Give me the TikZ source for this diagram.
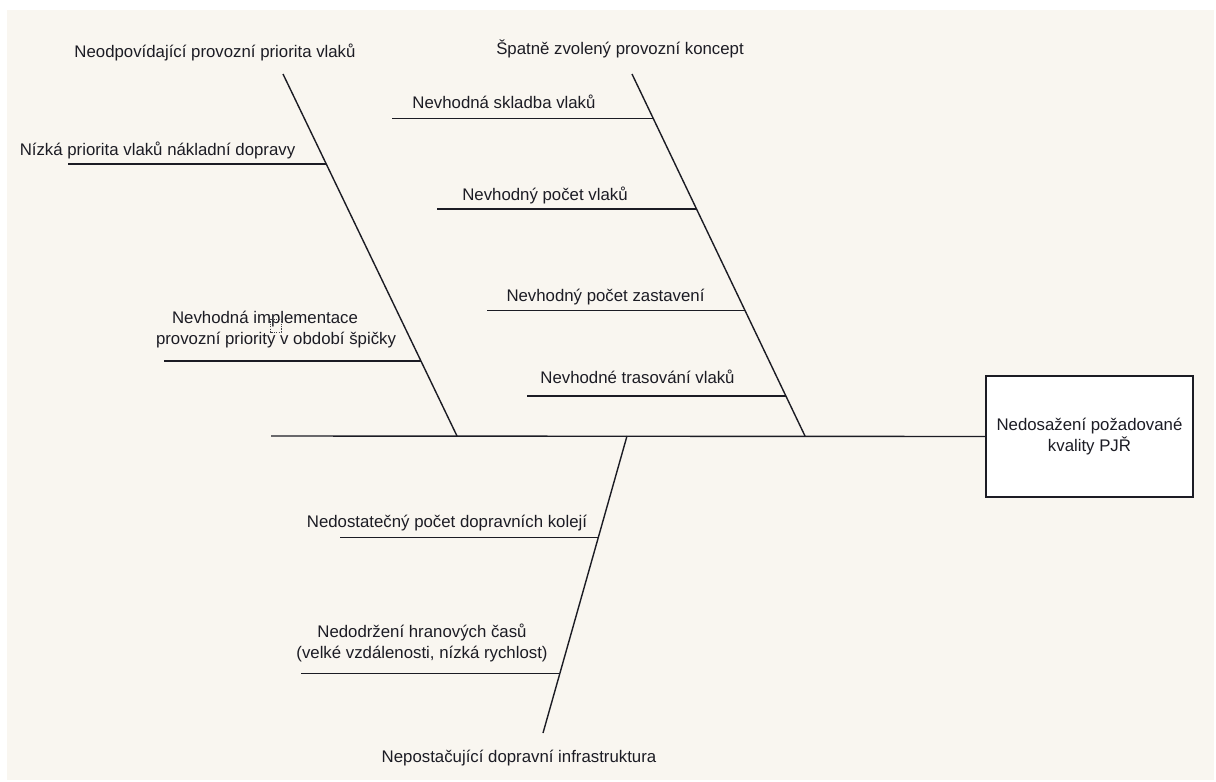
\documentclass[tikz,border=0pt]{standalone}
\usepackage{fontspec}
\setmainfont{Liberation Sans}
\usetikzlibrary{calc}
\definecolor{paper}{RGB}{249,246,240}
\definecolor{ink}{RGB}{28,28,36}
\begin{document}
\begin{tikzpicture}[x=1pt,y=-1pt,
  bone/.style={draw=ink,line width=1.4pt},
  label/.style={inner sep=0pt,anchor=base,text=ink,align=center,
    font=\fontsize{16.8}{21}\selectfont},
  effectbox/.style={draw=ink,line width=1.4pt,fill=white,inner sep=0pt,
    minimum width=207pt,minimum height=121pt,text=ink,align=center,
    font=\fontsize{16.8}{21}\selectfont}]
  % canvas
  \useasboundingbox (0,0) rectangle (1216,782);
  \fill[white] (0,0) rectangle (1216,782);
  \fill[paper] (7,10) rectangle (1214,780);

  % effect (head of the fish)
  \node[effectbox] (effect) at (1089.5,436.5) {Nedosažení požadované\\kvality PJŘ};

  % spine
  \coordinate (tail) at (271,436);
  \draw[bone] (tail) -- (effect.west);

  % main bones
  \coordinate (b1a) at (283,74);   \coordinate (b1b) at (457,436);
  \coordinate (b2a) at (632,74);   \coordinate (b2b) at (805,436);
  \coordinate (b3a) at (627,436);  \coordinate (b3b) at (543,733);
  \draw[bone] (b1a) -- (b1b);
  \draw[bone] (b2a) -- (b2b);
  \draw[bone] (b3a) -- (b3b);

  % points where the sub-causes join their bone
  \coordinate (j11) at ($(b1a)!0.2486!(b1b)$);
  \coordinate (j12) at ($(b1a)!0.7928!(b1b)$);
  \coordinate (j21) at ($(b2a)!0.1235!(b2b)$);
  \coordinate (j22) at ($(b2a)!0.3729!(b2b)$);
  \coordinate (j23) at ($(b2a)!0.6539!(b2b)$);
  \coordinate (j24) at ($(b2a)!0.8895!(b2b)$);
  \coordinate (j31) at ($(b3a)!0.3424!(b3b)$);
  \coordinate (j32) at ($(b3a)!0.8003!(b3b)$);

  % free ends of the sub-cause lines
  \coordinate (e11) at (68,0 |- j11);
  \coordinate (e12) at (164,0 |- j12);
  \coordinate (e21) at (392,0 |- j21);
  \coordinate (e22) at (437,0 |- j22);
  \coordinate (e23) at (487,0 |- j23);
  \coordinate (e24) at (527,0 |- j24);
  \coordinate (e31) at (340,0 |- j31);
  \coordinate (e32) at (301,0 |- j32);
  \foreach \k in {11,12,21,22,23,24,31,32} {
    \draw[bone] (e\k) -- (j\k);
  }

  % cause categories
  \node[label] (c1) at (215,57) {Neodpovídající provozní priorita vlaků};
  \node[label] (c2) at (620,54) {Špatně zvolený provozní koncept};
  \node[label] (c3) at (519,762) {Nepostačující dopravní infrastruktura};

  % sub-causes (base anchor sits on the last line)
  \node[label] (s11) at (157.5,155) {Nízká priorita vlaků nákladní dopravy};
  \node[label] (s12) at (276,344) {Nevhodná implementace\hbox to 22pt{}\\provozní priority v období špičky};
  \node[label] (s21) at (504,108) {Nevhodná skladba vlaků};
  \node[label] (s22) at (545,200) {Nevhodný počet vlaků};
  \node[label] (s23) at (605.5,301) {Nevhodný počet zastavení};
  \node[label] (s24) at (637.5,383) {Nevhodné trasování vlaků};
  \node[label] (s31) at (447,527) {Nedostatečný počet dopravních kolejí};
  \node[label] (s32) at (422,658) {Nedodržení hranových časů\\(velké vzdálenosti, nízká rychlost)};

  % small dotted selection marker
  \draw[ink!85,line width=1pt,dash pattern=on 1.2pt off 1.2pt] (270,319) rectangle (281,332);
\end{tikzpicture}
\end{document}
